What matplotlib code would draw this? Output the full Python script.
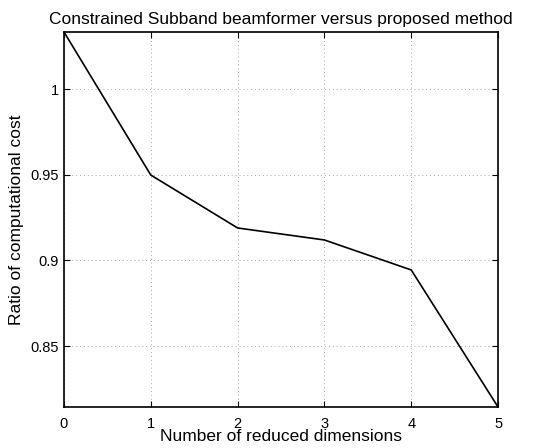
import matplotlib
matplotlib.use('Agg')
import matplotlib.pyplot as plt

plt.rcParams['font.family'] = ['Liberation Sans', 'DejaVu Sans']

# data
dims = [0, 1, 2, 3, 4, 5]
ratio = [1.0333, 0.9498, 0.9189, 0.9119, 0.8944, 0.8144]
xticks = [0, 1, 2, 3, 4, 5]
yticks = [0.85, 0.9, 0.95, 1.0]
yticklabels = ['0.85', '0.9', '0.95', '1']

fig = plt.figure(figsize=(5.39, 4.48), dpi=100)
ax = fig.add_axes([0.1187, 0.0915, 0.8053, 0.8371])
ax.plot(dims, ratio, color='black', linewidth=1.2)

ax.set_xlim(0, 5)
ax.set_ylim(min(ratio), max(ratio))
ax.set_xticks(xticks)
ax.set_yticks(yticks)
ax.set_yticklabels(yticklabels)
ax.grid(True, linestyle=(0, (1, 3)), color='#aaaaaa', linewidth=0.7)
ax.tick_params(direction='in', top=True, right=True, labelsize=10.5, length=4)
ax.tick_params(axis='x', pad=7)
for s in ax.spines.values():
    s.set_linewidth(1.2)

ax.set_title('Constrained Subband beamformer versus proposed method', fontsize=12.5, pad=6)
ax.set_xlabel('Number of reduced dimensions', fontsize=12.5, labelpad=-1)
ax.set_ylabel('Ratio of computational cost', fontsize=12.5, labelpad=5)

fig.savefig('out.png', dpi=100)
